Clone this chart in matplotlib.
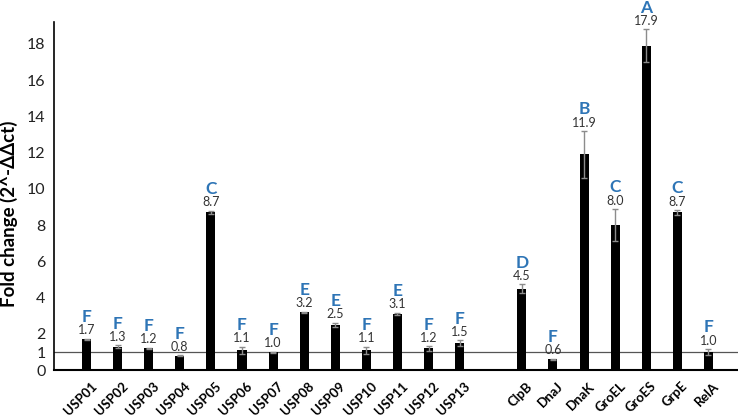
import numpy as np
import matplotlib
matplotlib.use("Agg")
import matplotlib.pyplot as plt
from matplotlib.transforms import ScaledTranslation

plt.rcParams['font.family'] = ['Lato', 'DejaVu Sans']

# Genes (two groups separated by a gap)
usp_genes = ['USP01', 'USP02', 'USP03', 'USP04', 'USP05', 'USP06', 'USP07',
             'USP08', 'USP09', 'USP10', 'USP11', 'USP12', 'USP13']
hsp_genes = ['ClpB', 'DnaJ', 'DnaK', 'GroEL', 'GroES', 'GrpE', 'RelA']

fold_change = [1.7, 1.3, 1.2, 0.8, 8.7, 1.1, 1.0, 3.2, 2.5, 1.1, 3.1, 1.2, 1.5,
               4.5, 0.6, 11.9, 8.0, 17.9, 8.7, 1.0]
errors = [0.05, 0.07, 0.05, 0.03, 0.1, 0.2, 0.03, 0.03, 0.12, 0.2, 0.08, 0.13, 0.15,
          0.23, 0.03, 1.3, 0.9, 0.9, 0.14, 0.17]
groups = ['F', 'F', 'F', 'F', 'C', 'F', 'F', 'E', 'E', 'F', 'E', 'F', 'F',
          'D', 'F', 'B', 'C', 'A', 'C', 'F']
yticks = [0, 1, 2, 4, 6, 8, 10, 12, 14, 16, 18]

genes = usp_genes + hsp_genes
x = np.concatenate([np.arange(len(usp_genes)),
                    np.arange(len(hsp_genes)) + len(usp_genes) + 1])

fig = plt.figure(figsize=(7.38, 4.16), dpi=100)
ax = fig.add_axes([0.073, 0.11, 0.927, 0.837])

ax.bar(x, fold_change, width=0.29, color='black', zorder=3)
ax.errorbar(x, fold_change, yerr=errors, fmt='none', ecolor='#8c8c8c',
            elinewidth=1, capsize=2.5, capthick=1, zorder=4)
ax.axhline(1, color='#555555', lw=0.9, zorder=2)

for xi, v, e, g in zip(x, fold_change, errors, groups):
    ax.annotate(f'{v:.1f}', (xi, v + e), xytext=(0, 6), textcoords='offset points',
                ha='center', va='center', fontsize=9, color='#333333')
    ax.annotate(g, (xi, v + e), xytext=(0, 15.5), textcoords='offset points',
                ha='center', va='center', fontsize=12.5, fontweight='bold',
                color='#2E75B6')

ax.set_xlim(-1.05, 20.95)
ax.set_ylim(0, 19.2)
ax.set_yticks(yticks)
ax.set_yticklabels([str(t) for t in yticks], fontsize=11.5, color='#222222')
ax.set_xticks(x)
ax.set_xticklabels(genes, rotation=45, ha='right', rotation_mode='anchor',
                   fontsize=9.5, fontweight='bold')
ax.tick_params(axis='y', length=0, pad=6)
ax.tick_params(axis='x', length=0, pad=7)
shift = ScaledTranslation(4 / 100, 0, fig.dpi_scale_trans)
for lbl in ax.get_xticklabels():
    lbl.set_transform(lbl.get_transform() + shift)

for side in ['top', 'right']:
    ax.spines[side].set_visible(False)
ax.spines['left'].set_linewidth(1.2)
ax.spines['bottom'].set_linewidth(1.5)

ax.set_ylabel('Fold change (2^-ΔΔct)', fontsize=13.5, fontweight='bold')
ax.yaxis.set_label_coords(-0.052, 0.45)

fig.savefig('out.png', dpi=100)
